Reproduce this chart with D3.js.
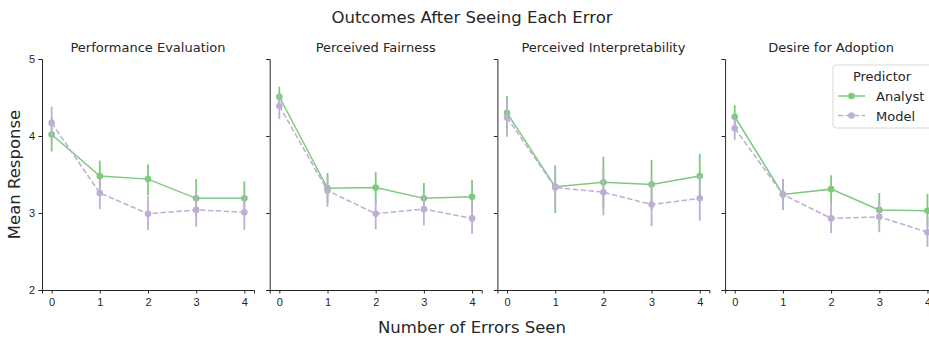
<!DOCTYPE html>
<html lang="en">
<head>
    <meta charset="UTF-8">
    <title>Outcomes After Seeing Each Error</title>
    <style>
        html, body { margin: 0; padding: 0; background: #fff; }
        svg { display: block; font-family: "DejaVu Sans", sans-serif; }
    </style>
</head>
<body>
    <div id="wrapper"></div>
    <script src="https://d3js.org/d3.v7.min.js"></script>
    <script>
        // data
        const panels = ['Performance Evaluation', 'Perceived Fairness', 'Perceived Interpretability', 'Desire for Adoption'];
        const errorsSeen = [0, 1, 2, 3, 4];
        const yTicks = [2, 3, 4, 5];
        const seriesNames = ['Analyst', 'Model'];

        const analystMean = [
            [4.02, 3.48, 3.44, 3.19, 3.19],
            [4.51, 3.32, 3.33, 3.19, 3.21],
            [4.30, 3.34, 3.40, 3.37, 3.48],
            [4.25, 3.24, 3.31, 3.04, 3.03]
        ];
        const analystLow = [
            [3.80, 3.29, 3.23, 2.95, 2.97],
            [4.38, 3.13, 3.13, 3.00, 3.00],
            [4.08, 3.00, 3.06, 3.04, 3.19],
            [4.10, 3.04, 3.13, 2.84, 2.82]
        ];
        const analystHigh = [
            [4.24, 3.68, 3.63, 3.44, 3.41],
            [4.64, 3.52, 3.53, 3.39, 3.43],
            [4.52, 3.62, 3.73, 3.69, 3.77],
            [4.40, 3.44, 3.49, 3.26, 3.25]
        ];
        const modelMean = [
            [4.17, 3.26, 2.99, 3.04, 3.01],
            [4.39, 3.29, 2.99, 3.05, 2.93],
            [4.24, 3.33, 3.27, 3.11, 3.19],
            [4.10, 3.24, 2.93, 2.95, 2.75]
        ];
        const modelLow = [
            [3.95, 3.05, 2.78, 2.82, 2.78],
            [4.22, 3.08, 2.79, 2.84, 2.73],
            [3.99, 3.06, 2.97, 2.83, 2.90],
            [3.95, 3.05, 2.74, 2.75, 2.56]
        ];
        const modelHigh = [
            [4.38, 3.44, 3.22, 3.26, 3.22],
            [4.55, 3.47, 3.19, 3.23, 3.13],
            [4.47, 3.60, 3.57, 3.39, 3.49],
            [4.23, 3.43, 3.13, 3.13, 2.95]
        ];

        const width = 929, height = 340;
        const colors = { Analyst: '#7fc97f', Model: '#beaed4' };
        const dashes = { Analyst: null, Model: '5.5,2.4' };
        const ink = '#262626';

        const svg = d3.select('#wrapper').append('svg')
            .attr('width', width)
            .attr('height', height);

        // layout of the four panels
        const panelLeft = 42, panelStep = 227.7, panelWidth = 212;
        const plotTop = 59, plotBottom = 290;

        const y = d3.scaleLinear().domain([2, 5]).range([plotBottom, plotTop]);

        const series = [
            { name: 'Analyst', mean: analystMean, low: analystLow, high: analystHigh },
            { name: 'Model', mean: modelMean, low: modelLow, high: modelHigh }
        ];

        panels.forEach((title, i) => {
            const x0 = panelLeft + i * panelStep;
            const x = d3.scaleLinear().domain([-0.2, 4.2]).range([x0, x0 + panelWidth]);
            const g = svg.append('g').attr('class', 'panel');

            // x axis
            const xAxis = d3.axisBottom(x).tickValues(errorsSeen).tickFormat(d3.format('d'))
                .tickSizeOuter(0).tickSize(3.5).tickPadding(4.5);
            const xg = g.append('g').attr('transform', `translate(0,${plotBottom})`).call(xAxis);

            // y axis, labels only on first panel (shared y)
            const yAxis = d3.axisLeft(y).tickValues(yTicks).tickSizeOuter(0).tickSize(3.5).tickPadding(3.5)
                .tickFormat(i === 0 ? d3.format('d') : () => '');
            const yg = g.append('g').attr('transform', `translate(${x0},0)`).call(yAxis);

            [xg, yg].forEach(a => {
                a.selectAll('.domain').attr('stroke', ink).attr('stroke-width', 1);
                a.selectAll('.tick line').attr('stroke', ink).attr('stroke-width', 1);
                a.selectAll('.tick text').attr('fill', ink).style('font-size', '11px');
            });

            g.append('text')
                .attr('x', x0 + panelWidth / 2)
                .attr('y', 52)
                .attr('text-anchor', 'middle')
                .style('font-size', '13px')
                .attr('fill', ink)
                .text(title);

            series.forEach(s => {
                const pts = errorsSeen.map((e, j) => ({ e, m: s.mean[i][j], lo: s.low[i][j], hi: s.high[i][j] }));
                const sg = g.append('g');

                // error bars
                sg.selectAll('line.err').data(pts).join('line')
                    .attr('class', 'err')
                    .attr('x1', d => x(d.e)).attr('x2', d => x(d.e))
                    .attr('y1', d => y(d.lo)).attr('y2', d => y(d.hi))
                    .attr('stroke', colors[s.name])
                    .attr('stroke-width', 1.8);

                const line = d3.line().x(d => x(d.e)).y(d => y(d.m));
                sg.append('path')
                    .attr('d', line(pts))
                    .attr('fill', 'none')
                    .attr('stroke', colors[s.name])
                    .attr('stroke-width', 1.5)
                    .attr('stroke-dasharray', dashes[s.name]);

                sg.selectAll('circle').data(pts).join('circle')
                    .attr('cx', d => x(d.e))
                    .attr('cy', d => y(d.m))
                    .attr('r', 3.3)
                    .attr('fill', colors[s.name]);
            });
        });

        // overall title and axis labels
        svg.append('text')
            .attr('x', 472).attr('y', 23)
            .attr('text-anchor', 'middle')
            .style('font-size', '16.5px')
            .attr('fill', ink)
            .text('Outcomes After Seeing Each Error');

        svg.append('text')
            .attr('transform', `translate(20,${(plotTop + plotBottom) / 2}) rotate(-90)`)
            .attr('text-anchor', 'middle')
            .style('font-size', '16.5px')
            .attr('fill', ink)
            .text('Mean Response');

        svg.append('text')
            .attr('x', 472).attr('y', 333)
            .attr('text-anchor', 'middle')
            .style('font-size', '16.5px')
            .attr('fill', ink)
            .text('Number of Errors Seen');

        // legend
        const lg = svg.append('g').attr('transform', 'translate(833,65)');
        lg.append('rect')
            .attr('width', 110).attr('height', 63)
            .attr('rx', 3)
            .attr('fill', '#fff').attr('fill-opacity', 0.8)
            .attr('stroke', '#d9d9d9');
        lg.append('text')
            .attr('x', 49).attr('y', 16)
            .attr('text-anchor', 'middle')
            .style('font-size', '13px')
            .attr('fill', ink)
            .text('Predictor');
        seriesNames.forEach((name, k) => {
            const ry = 31 + k * 19.5;
            lg.append('line')
                .attr('x1', 5).attr('x2', 32)
                .attr('y1', ry).attr('y2', ry)
                .attr('stroke', colors[name])
                .attr('stroke-width', 1.5)
                .attr('stroke-dasharray', dashes[name]);
            lg.append('circle')
                .attr('cx', 18.5).attr('cy', ry).attr('r', 3.3)
                .attr('fill', colors[name]);
            lg.append('text')
                .attr('x', 43).attr('y', ry + 5)
                .style('font-size', '13px')
                .attr('fill', ink)
                .text(name);
        });
    </script>
</body>
</html>
